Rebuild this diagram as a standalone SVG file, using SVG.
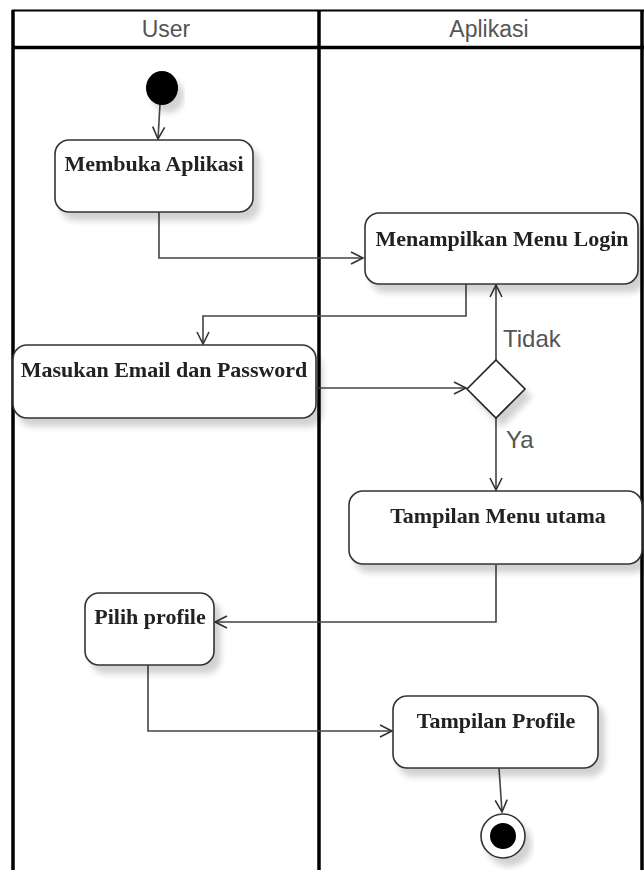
<svg xmlns="http://www.w3.org/2000/svg" width="644" height="870" viewBox="0 0 644 870">
<style>
.lane{stroke:#000;stroke-width:3.5;fill:none}
.hdr{font-family:"Liberation Sans",Arial,sans-serif;font-size:23px;fill:#555;text-anchor:middle}
.box{fill:#fff;stroke:#333;stroke-width:1.6}
.lbl{font-family:"Liberation Serif","Times New Roman",serif;font-weight:bold;font-size:22px;fill:#222;text-anchor:middle}
.edge{fill:none;stroke:#444;stroke-width:1.6}
.guard{font-family:"Liberation Sans",Arial,sans-serif;font-size:24px;fill:#555}
</style>
<defs>
<marker id="arr" markerUnits="userSpaceOnUse" markerWidth="16" markerHeight="16" refX="13" refY="7" orient="auto">
<path d="M1,1 L13,7 L1,13" fill="none" stroke="#333" stroke-width="1.6"/>
</marker>
<filter id="sh" x="-10%" y="-10%" width="130%" height="150%">
<feGaussianBlur in="SourceAlpha" stdDeviation="3"/>
<feOffset dx="6" dy="8" result="b"/>
<feComponentTransfer><feFuncA type="linear" slope="0.18"/></feComponentTransfer>
<feMerge><feMergeNode/><feMergeNode in="SourceGraphic"/></feMerge>
</filter>
</defs>
<rect width="644" height="870" fill="#fff"/>
<g id="swimlanes">
<line x1="12" y1="10.5" x2="644" y2="10.5" stroke="#000" stroke-width="2"/>
<line x1="12" y1="47.5" x2="644" y2="47.5" class="lane"/>
<line x1="13" y1="10" x2="13" y2="870" class="lane"/>
<line x1="319" y1="10" x2="319" y2="870" class="lane"/>
<line x1="642" y1="10" x2="642" y2="870" class="lane"/>
<text class="hdr" x="166" y="37">User</text>
<text class="hdr" x="489" y="37">Aplikasi</text>
</g>
<g id="connectors">
<line x1="160" y1="104" x2="158" y2="139" class="edge" marker-end="url(#arr)"/>
<path d="M159,212 V258 H363" class="edge" marker-end="url(#arr)"/>
<path d="M466,284 V316 H203 V344" class="edge" marker-end="url(#arr)"/>
<path d="M316,388 H466" class="edge" marker-end="url(#arr)"/>
<path d="M496,360 V285" class="edge" marker-end="url(#arr)"/>
<path d="M496,418 V490" class="edge" marker-end="url(#arr)"/>
<path d="M496,565 V622 H215" class="edge" marker-end="url(#arr)"/>
<path d="M148,665 V731 H392" class="edge" marker-end="url(#arr)"/>
<line x1="499" y1="768" x2="502" y2="812" class="edge" marker-end="url(#arr)"/>
<text class="guard" x="503" y="347">Tidak</text>
<text class="guard" x="506" y="448">Ya</text>
</g>
<g id="start" filter="url(#sh)">
<ellipse cx="162" cy="88" rx="16" ry="17" fill="#000"/>
</g>
<g id="membuka" filter="url(#sh)">
<rect class="box" x="55" y="140" width="198" height="72" rx="14"/>
<text class="lbl" x="154" y="171">Membuka Aplikasi</text>
</g>
<g id="login" filter="url(#sh)">
<rect class="box" x="365" y="213" width="273" height="71" rx="14"/>
<text class="lbl" x="502" y="246">Menampilkan Menu Login</text>
</g>
<g id="masukan" filter="url(#sh)">
<rect class="box" x="13" y="345" width="303" height="73" rx="14"/>
<text class="lbl" x="164" y="377">Masukan Email dan Password</text>
</g>
<g id="decision" filter="url(#sh)">
<polygon points="496,360 525,389 496,418 467,389" fill="#fff" stroke="#222" stroke-width="1.6"/>
</g>
<g id="menu-utama" filter="url(#sh)">
<rect class="box" x="349" y="491" width="293" height="73" rx="14"/>
<text class="lbl" x="498" y="523">Tampilan Menu utama</text>
</g>
<g id="pilih" filter="url(#sh)">
<rect class="box" x="85" y="593" width="129" height="72" rx="14"/>
<text class="lbl" x="150" y="624">Pilih profile</text>
</g>
<g id="profile" filter="url(#sh)">
<rect class="box" x="393" y="696" width="205" height="72" rx="14"/>
<text class="lbl" x="496" y="728">Tampilan Profile</text>
</g>
<g id="end" filter="url(#sh)">
<circle cx="503" cy="836" r="22" fill="#fff" stroke="#333" stroke-width="1.6"/>
<circle cx="503" cy="836" r="13" fill="#000"/>
</g>
</svg>
